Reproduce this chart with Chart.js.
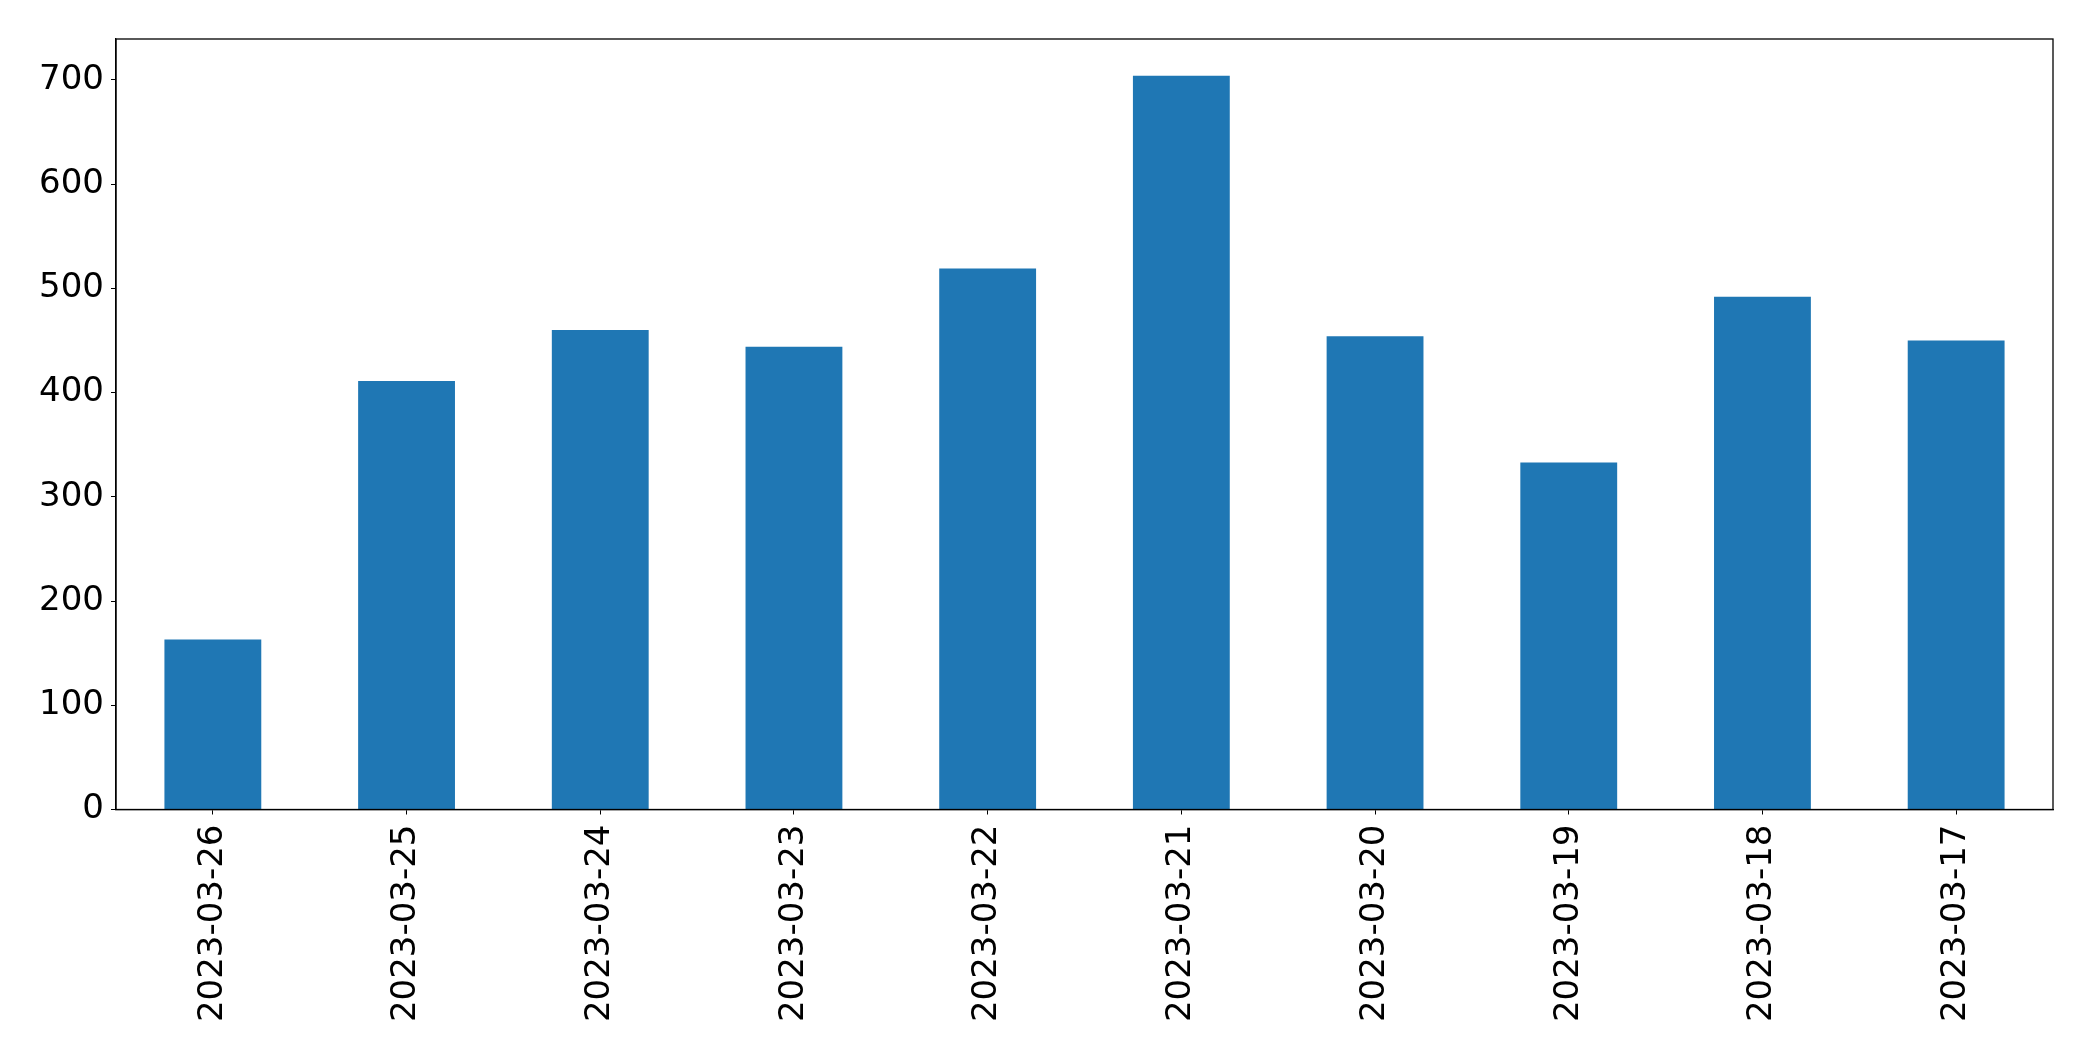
<!DOCTYPE html>
<html>
<head>
<meta charset="utf-8">
<script src="https://cdn.jsdelivr.net/npm/chart.js@4/dist/chart.umd.min.js"></script>
<style>
  html, body { margin: 0; padding: 0; background: #fff; }
  #wrap { width: 2093px; height: 1061px; }
</style>
</head>
<body>
<div id="wrap"><canvas id="chart" width="2093" height="1061"></canvas></div>
<script>
const dates = ['2023-03-26', '2023-03-25', '2023-03-24', '2023-03-23', '2023-03-22',
               '2023-03-21', '2023-03-20', '2023-03-19', '2023-03-18', '2023-03-17'];
const counts = [163, 411, 460, 444, 519, 704, 454, 333, 492, 450];
const yTicks = [0, 100, 200, 300, 400, 500, 600, 700];
const yMax = 739.2;

// draws the frame round the plot area (matplotlib style box)
const frame = {
    id: 'frame',
    afterDraw(chart) {
        const { ctx, chartArea: a } = chart;
        ctx.save();
        ctx.strokeStyle = '#000';
        ctx.lineWidth = 1.3;
        ctx.strokeRect(a.left, a.top, a.right - a.left, a.bottom - a.top);
        ctx.restore();
    }
};

new Chart(document.getElementById('chart'), {
    type: 'bar',
    data: {
        labels: dates,
        datasets: [{
            data: counts,
            backgroundColor: '#1f77b4',
            borderWidth: 0,
            barPercentage: 0.5,
            categoryPercentage: 1.0
        }]
    },
    options: {
        responsive: false,
        animation: false,
        layout: { padding: { top: 39, right: 40, left: 0, bottom: 0 } },
        plugins: { legend: { display: false }, tooltip: { enabled: false } },
        scales: {
            x: {
                grid: { display: true, drawOnChartArea: false, offset: false, tickLength: 5, color: '#000' },
                border: { display: true, color: '#000', width: 1.3 },
                ticks: {
                    color: '#000',
                    font: { family: 'DejaVu Sans', size: 34 },
                    minRotation: 90,
                    maxRotation: 90,
                    padding: 10,
                    autoSkip: false
                },
                afterFit(s) { s.height = 251.5; }
            },
            y: {
                min: 0,
                max: yMax,
                afterBuildTicks(s) { s.ticks = yTicks.map(v => ({ value: v })); },
                grid: { display: true, drawOnChartArea: false, tickLength: 5, color: '#000' },
                border: { display: true, color: '#000', width: 1.3 },
                ticks: {
                    color: '#000',
                    font: { family: 'DejaVu Sans', size: 34 },
                    padding: 7
                },
                afterFit(s) { s.width = 116; }
            }
        }
    },
    plugins: [frame]
});
</script>
</body>
</html>
